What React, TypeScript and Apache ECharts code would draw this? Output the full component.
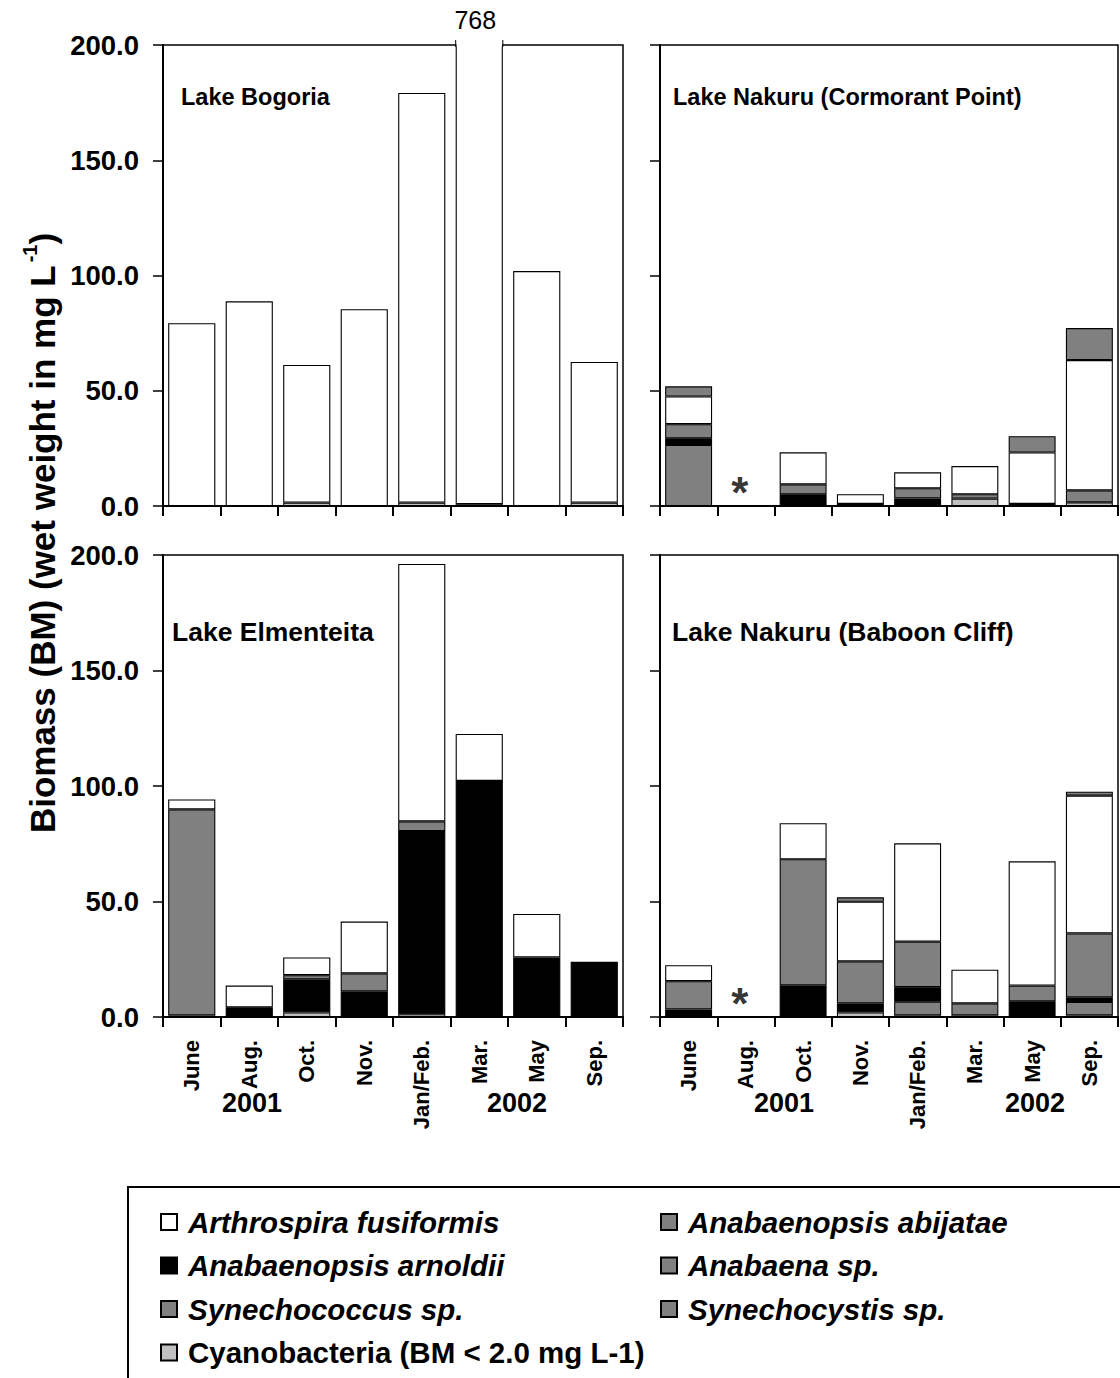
import React, { useEffect, useRef } from "react";
import * as echarts from "echarts";

const FONT = "'Liberation Sans', Arial, Helvetica, sans-serif";

// ---------- data ----------
const months = ["June", "Aug.", "Oct.", "Nov.", "Jan/Feb.", "Mar.", "May", "Sep."];
const Y_MIN = 0;
const Y_MAX = 200;
const Y_STEP = 50;
const panelTitles = [
  "Lake Bogoria",
  "Lake Nakuru (Cormorant Point)",
  "Lake Elmenteita",
  "Lake Nakuru (Baboon Cliff)",
];
const yearLabels = ["2001", "2002"];
const missingMonth = "Aug.";
const missingPanels = [1, 3];

// values per panel: [Bogoria, Cormorant Point, Elmenteita, Baboon Cliff]
const N = null;
const cyanobacteria = [
  [N, N, 1.5, N, 1.5, 0.8, N, 1.5],
  [N, N, N, 0.9, N, 3.2, 0.9, 1.6],
  [0.7, N, 2.0, N, 1.2, N, N, N],
  [N, N, N, 2.0, 0.7, 0.7, N, 0.7],
];
const synechocystis = [
  [N, N, N, N, N, N, N, N],
  [26.5, N, N, N, N, N, N, N],
  [N, N, N, N, N, N, N, N],
  [N, N, N, N, 5.9, N, N, 5.8],
];
const arnoldii = [
  [N, N, N, N, N, N, N, N],
  [2.9, N, 5.1, N, 3.3, N, N, N],
  [N, 4.2, 14.3, 11.1, 79.3, 102.2, 25.8, 23.9],
  [3.3, N, 13.7, 3.9, 6.3, N, 6.8, 2.0],
];
const abijatae = [
  [N, N, N, N, N, N, N, N],
  [6.1, N, 4.3, N, 4.4, 1.9, N, 5.2],
  [89.2, N, 1.8, 7.8, 4.2, N, N, N],
  [12.2, N, 54.6, 18.2, 19.7, 5.2, 6.8, 27.7],
];
const arthrospira = [
  [79.3, 88.8, 59.7, 85.4, 177.7, 767.2, 101.9, 61.0],
  [12.0, N, 13.9, 4.2, 6.9, 12.2, 22.3, 56.5],
  [4.3, 9.4, 7.7, 22.4, 111.4, 20.3, 18.8, N],
  [6.9, N, 15.6, 25.8, 42.6, 14.6, 53.8, 59.6],
];
const synechococcus = [
  [N, N, N, N, N, N, N, N],
  [4.4, N, N, N, N, N, 7.1, 13.9],
  [N, N, N, N, N, N, N, N],
  [N, N, N, 1.9, N, N, N, 1.7],
];
const anabaena = [
  [N, N, N, N, N, N, N, N],
  [N, N, N, N, N, N, N, N],
  [N, N, N, N, N, N, N, N],
  [N, N, N, N, N, N, N, N],
];

const CYANO = "Cyanobacteria (BM < 2.0 mg L-1)";
// stacking order, bottom to top
const species = [
  { name: CYANO, color: "#c0c0c0", data: cyanobacteria },
  { name: "Synechocystis sp.", color: "#808080", data: synechocystis },
  { name: "Anabaenopsis arnoldii", color: "#000000", data: arnoldii },
  { name: "Anabaenopsis abijatae", color: "#808080", data: abijatae },
  { name: "Arthrospira fusiformis", color: "#ffffff", data: arthrospira },
  { name: "Synechococcus sp.", color: "#808080", data: synechococcus },
  { name: "Anabaena sp.", color: "#808080", data: anabaena },
];
const legendColA = ["Arthrospira fusiformis", "Anabaenopsis arnoldii", "Synechococcus sp.", CYANO];
const legendColB = ["Anabaenopsis abijatae", "Anabaena sp.", "Synechocystis sp."];

// ---------- layout ----------
const grids = [
  { left: 163, top: 45, width: 460, height: 461 },
  { left: 660, top: 45, width: 458, height: 461 },
  { left: 163, top: 555, width: 460, height: 462 },
  { left: 660, top: 555, width: 458, height: 462 },
];
const titlePos = [
  [181, 97, 23.5],
  [673, 97, 23.5],
  [172, 632, 26.5],
  [672, 632, 26.5],
];
const yearPos = [
  [[252, 1103], [517, 1103]],
  [[784, 1103], [1035, 1103]],
];
const BAR_RATIO = 0.82;

function buildBase() {
  const graphic: any[] = [];
  panelTitles.forEach((t, i) => {
    graphic.push({
      type: "text",
      x: titlePos[i][0],
      y: titlePos[i][1],
      z: 50,
      style: {
        text: t,
        fontFamily: FONT,
        fontSize: titlePos[i][2],
        fontWeight: "bold",
        fill: "#000",
        align: "left",
        verticalAlign: "middle",
      },
    });
  });
  yearPos.forEach((pair) =>
    pair.forEach((p, k) =>
      graphic.push({
        type: "text",
        x: p[0],
        y: p[1],
        style: {
          text: yearLabels[k],
          fontFamily: FONT,
          fontSize: 27,
          fontWeight: "bold",
          fill: "#000",
          align: "center",
          verticalAlign: "middle",
        },
      })
    )
  );
  graphic.push({
    type: "text",
    x: 40,
    y: 533,
    rotation: Math.PI / 2,
    style: {
      text: "{a|Biomass (BM) (wet weight in mg L}{s|-1}{a|)}",
      align: "center",
      verticalAlign: "middle",
      fill: "#000",
      rich: {
        a: { fontFamily: FONT, fontSize: 35, fontWeight: "bold", fill: "#000", lineHeight: 40, verticalAlign: "bottom" },
        s: { fontFamily: FONT, fontSize: 20, fontWeight: "bold", fill: "#000", lineHeight: 40, verticalAlign: "top", padding: [0, 0, 0, 3] },
      },
    },
  });
  graphic.push({
    type: "rect",
    shape: { x: 128, y: 1187, width: 1100, height: 300 },
    style: { fill: "none", stroke: "#000", lineWidth: 2 },
  });

  const xAxis = grids.map((_, i) => ({
    type: "category",
    gridIndex: i,
    data: months,
    boundaryGap: true,
    axisLine: { show: true, lineStyle: { color: "#000", width: 2 } },
    axisTick: { show: true, inside: false, length: 10, interval: 0, lineStyle: { color: "#000", width: 2 } },
    axisLabel:
      i >= 2
        ? { show: true, interval: 0, rotate: 90, margin: 23, fontFamily: FONT, fontSize: 22, fontWeight: "bold", color: "#000" }
        : { show: false },
    splitLine: { show: false },
  }));
  const yAxis = grids.map((_, i) => ({
    type: "value",
    gridIndex: i,
    min: Y_MIN,
    max: Y_MAX,
    interval: Y_STEP,
    axisLine: { show: true, lineStyle: { color: "#000", width: 2 } },
    axisTick: { show: true, inside: false, length: 10, lineStyle: { color: "#000", width: 1.5 } },
    axisLabel:
      i % 2 === 0
        ? { show: true, margin: 24, formatter: (v: number) => v.toFixed(1), fontFamily: FONT, fontSize: 27.5, fontWeight: "bold", color: "#000" }
        : { show: false },
    splitLine: { show: false },
  }));

  const series: any[] = [];
  grids.forEach((_, p) => {
    species.forEach((s) => {
      series.push({
        type: "bar",
        name: s.name,
        xAxisIndex: p,
        yAxisIndex: p,
        stack: "panel" + p,
        barWidth: BAR_RATIO * 100 + "%",
        data: s.data[p],
        itemStyle: { color: s.color, borderColor: "#000", borderWidth: 1.1 },
        emphasis: { disabled: true },
        silent: true,
      });
    });
  });
  missingPanels.forEach((p) => {
    series.push({
      type: "scatter",
      name: "missing" + p,
      xAxisIndex: p,
      yAxisIndex: p,
      data: [[missingMonth, 0]],
      symbol: "circle",
      symbolSize: 2,
      itemStyle: { color: "rgba(0,0,0,0)" },
      clip: false,
      silent: true,
      z: 10,
      label: {
        show: true,
        formatter: "*",
        position: "inside",
        offset: [-6, -14],
        fontFamily: FONT,
        fontSize: 44,
        fontWeight: "bold",
        color: "#000",
      },
    });
  });

  const legendText = { fontFamily: FONT, fontSize: 29.5, fontWeight: "bold", fontStyle: "italic", color: "#000", lineHeight: 28, padding: [0, 0, 0, 6] };
  const mkLegend = (names: string[], left: number) => ({
    orient: "vertical",
    left,
    top: 1207,
    padding: 0,
    itemWidth: 16,
    itemHeight: 16,
    itemGap: 13.5,
    icon: "rect",
    selectedMode: false,
    textStyle: legendText,
    data: names.map((n) => (n === CYANO ? { name: n, textStyle: { fontStyle: "normal" } } : { name: n })),
  });

  return {
    option: {
      animation: false,
      backgroundColor: "#fff",
      textStyle: { fontFamily: FONT },
      grid: grids.map((g) => ({ ...g, show: true, borderColor: "#000", borderWidth: 1.5, backgroundColor: "transparent", containLabel: false })),
      xAxis,
      yAxis,
      legend: [mkLegend(legendColA, 160), mkLegend(legendColB, 660)],
      series,
      graphic,
    },
    graphic,
  };
}

export default function App() {
  const ref = useRef<HTMLDivElement>(null);
  useEffect(() => {
    document.body.style.margin = "0";
    const chart = echarts.init(ref.current!, null, { renderer: "svg" });
    const { option, graphic } = buildBase();
    chart.setOption(option as any);

    // bars that run off the top of the axis: break the frame and print the total
    const extra: any[] = [];
    grids.forEach((_, p) => {
      months.forEach((m, i) => {
        let total = 0;
        species.forEach((s) => {
          const v = s.data[p][i];
          if (v != null) total += v;
        });
        if (total <= Y_MAX) return;
        const [cx, cy] = chart.convertToPixel({ xAxisIndex: p, yAxisIndex: p } as any, [i, Y_MAX]) as number[];
        const j = i + 1 < months.length ? i + 1 : i - 1;
        const [nx] = chart.convertToPixel({ xAxisIndex: p, yAxisIndex: p } as any, [j, Y_MAX]) as number[];
        const band = Math.abs(nx - cx);
        const bw = band * BAR_RATIO;
        const l = cx - bw / 2;
        const r = cx + bw / 2;
        extra.push({
          type: "rect",
          z: 100,
          shape: { x: l + 0.8, y: cy - 7, width: bw - 1.6, height: 8.5 },
          style: { fill: "#fff", stroke: "none" },
        });
        extra.push({ type: "line", z: 101, shape: { x1: l, y1: cy - 5, x2: l, y2: cy + 2 }, style: { stroke: "#000", lineWidth: 1 } });
        extra.push({ type: "line", z: 101, shape: { x1: r, y1: cy - 5, x2: r, y2: cy + 2 }, style: { stroke: "#000", lineWidth: 1 } });
        extra.push({
          type: "text",
          z: 101,
          x: cx - 4,
          y: cy - 25,
          style: { text: total.toFixed(0), fontFamily: FONT, fontSize: 25, fill: "#000", align: "center", verticalAlign: "middle" },
        });
      });
    });
    chart.setOption({ graphic: [...graphic, ...extra] } as any);
    return () => chart.dispose();
  }, []);
  return <div ref={ref} style={{ width: 1120, height: 1378 }} />;
}
